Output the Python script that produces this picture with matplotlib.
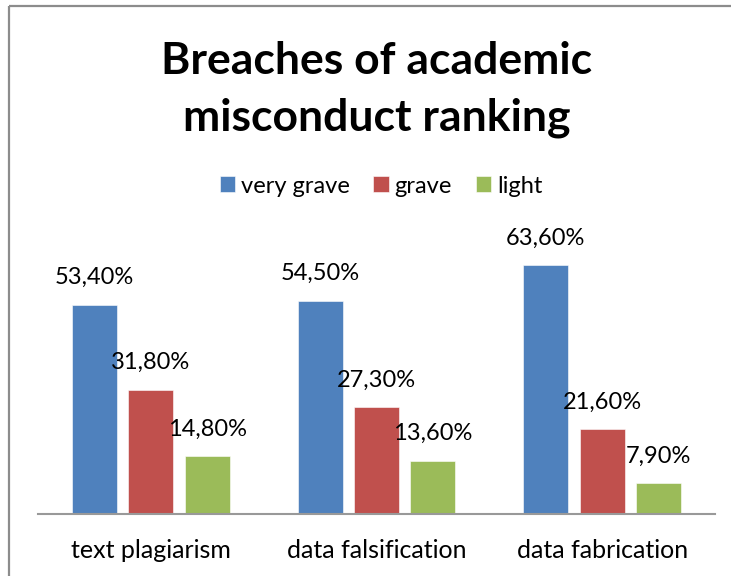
import numpy as np
from matplotlib import pyplot as plt
from matplotlib import rcParams
from matplotlib.lines import Line2D

categories = ["text plagiarism", "data falsification", "data fabrication"]
series = ["very grave", "grave", "light"]
very_grave = [53.4, 54.5, 63.6]
grave = [31.8, 27.3, 21.6]
light = [14.8, 13.6, 7.9]
colors = ["#4F81BD", "#C0504D", "#9BBB59"]

rcParams["font.family"] = ["Lato", "DejaVu Sans"]

fig = plt.figure(figsize=(7.32, 5.76), dpi=100)
W, H = 732, 576

# chart border: only the top and left edges are in the crop
bx, by = 9 / W, 1 - 6 / H
fig.add_artist(Line2D([bx, 0.999], [by, by], transform=fig.transFigure,
                      color="#8c8c8c", linewidth=1.6, solid_capstyle="butt"))
fig.add_artist(Line2D([bx, bx], [0.0, by], transform=fig.transFigure,
                      color="#8c8c8c", linewidth=1.6, solid_capstyle="butt"))

ax = fig.add_axes([38 / W, 1 - 514 / H, (715 - 38) / W, (514 - 240) / H])

x = np.arange(len(categories))
width = 0.2
step = 0.25
for i, (name, vals) in enumerate(zip(series, [very_grave, grave, light])):
    pos = x + (i - 1) * step
    ax.bar(pos, vals, width, color=colors[i], label=name,
           edgecolor="white", linewidth=0.4)
    for p, v in zip(pos, vals):
        ax.annotate(f"{v:.2f}%".replace(".", ","), (p, v), xytext=(0, 12),
                    textcoords="offset points", ha="center", va="bottom",
                    fontsize=17)

ax.set_xlim(-0.5, 2.5)
ax.set_ylim(0, 70)
ax.set_yticks([])
ax.set_xticks(x)
ax.set_xticklabels(categories, fontsize=18)
ax.tick_params(axis="x", length=0, pad=18)
for s in ["top", "right", "left"]:
    ax.spines[s].set_visible(False)
ax.spines["bottom"].set_color("#999999")
ax.spines["bottom"].set_linewidth(1.5)

fig.text(377 / W, 1 - 90 / H, "Breaches of academic\nmisconduct ranking",
         ha="center", va="center", fontsize=32, fontweight="bold",
         linespacing=1.5)

fig.legend(loc="center", bbox_to_anchor=(381 / W, 1 - 186 / H), ncol=3,
           frameon=False, fontsize=17, handlelength=0.65, handleheight=0.65,
           handletextpad=0.25, columnspacing=1.0)

plt.savefig("out.png", dpi=100)
